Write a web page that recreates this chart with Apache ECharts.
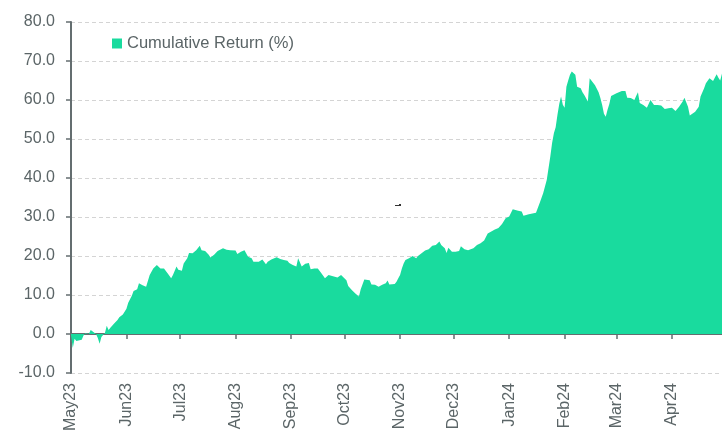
<!DOCTYPE html>
<html>
<head>
<meta charset="utf-8">
<script src="https://cdn.jsdelivr.net/npm/echarts/dist/echarts.min.js"></script>
<style>
	html, body { margin: 0; padding: 0; background: #fff; }
	#chart { width: 722px; height: 434px; }
</style>
</head>
<body>
<div id="chart"></div>
<script>
// 日期
var dates = [
	'2023-05-01', '2023-05-02', '2023-05-03', '2023-05-04', '2023-05-05', '2023-05-07', '2023-05-08', '2023-05-09',
	'2023-05-11', '2023-05-12', '2023-05-13', '2023-05-15', '2023-05-16', '2023-05-17', '2023-05-18', '2023-05-20',
	'2023-05-21', '2023-05-22', '2023-05-23', '2023-05-25', '2023-05-27', '2023-05-28', '2023-05-30',
	'2023-06-01', '2023-06-02', '2023-06-04', '2023-06-05', '2023-06-07', '2023-06-08', '2023-06-10', '2023-06-11',
	'2023-06-12', '2023-06-14', '2023-06-16', '2023-06-18', '2023-06-19', '2023-06-20', '2023-06-22', '2023-06-24',
	'2023-06-26', '2023-06-27', '2023-06-29', '2023-06-30',
	'2023-07-02', '2023-07-03', '2023-07-05', '2023-07-06', '2023-07-08', '2023-07-10', '2023-07-12', '2023-07-13',
	'2023-07-15', '2023-07-17', '2023-07-18', '2023-07-20', '2023-07-22', '2023-07-23', '2023-07-25', '2023-07-27',
	'2023-07-29', '2023-07-30',
	'2023-08-01', '2023-08-02', '2023-08-04', '2023-08-06', '2023-08-07', '2023-08-08', '2023-08-10', '2023-08-11',
	'2023-08-14', '2023-08-16', '2023-08-17', '2023-08-18', '2023-08-19', '2023-08-21', '2023-08-22', '2023-08-24',
	'2023-08-26', '2023-08-28', '2023-08-30', '2023-08-31',
	'2023-09-02', '2023-09-04', '2023-09-05', '2023-09-06', '2023-09-07', '2023-09-09', '2023-09-10', '2023-09-11',
	'2023-09-12', '2023-09-14', '2023-09-16', '2023-09-18', '2023-09-20', '2023-09-21', '2023-09-22', '2023-09-24',
	'2023-09-27', '2023-09-28', '2023-09-29', '2023-09-30',
	'2023-10-02', '2023-10-03', '2023-10-05', '2023-10-07', '2023-10-09', '2023-10-10', '2023-10-12', '2023-10-13',
	'2023-10-15', '2023-10-16', '2023-10-18', '2023-10-20', '2023-10-22', '2023-10-24', '2023-10-25', '2023-10-26',
	'2023-10-27', '2023-10-29', '2023-10-30', '2023-10-31',
	'2023-11-01', '2023-11-02', '2023-11-03', '2023-11-04', '2023-11-06', '2023-11-08', '2023-11-10', '2023-11-11',
	'2023-11-13', '2023-11-15', '2023-11-16', '2023-11-17', '2023-11-19', '2023-11-21', '2023-11-22', '2023-11-23',
	'2023-11-24', '2023-11-26', '2023-11-27', '2023-11-28', '2023-11-30',
	'2023-12-02', '2023-12-04', '2023-12-05', '2023-12-07', '2023-12-09', '2023-12-12', '2023-12-14', '2023-12-16',
	'2023-12-18', '2023-12-20', '2023-12-21', '2023-12-24', '2023-12-26', '2023-12-28', '2023-12-30',
	'2024-01-01', '2024-01-03', '2024-01-04', '2024-01-06', '2024-01-08', '2024-01-09', '2024-01-10', '2024-01-12',
	'2024-01-14', '2024-01-16', '2024-01-17', '2024-01-18', '2024-01-20', '2024-01-22', '2024-01-24', '2024-01-25',
	'2024-01-26', '2024-01-27', '2024-01-28', '2024-01-29', '2024-01-30', '2024-01-31',
	'2024-02-01', '2024-02-02', '2024-02-03', '2024-02-04', '2024-02-05', '2024-02-06', '2024-02-07', '2024-02-08',
	'2024-02-10', '2024-02-11', '2024-02-12', '2024-02-14', '2024-02-15', '2024-02-16', '2024-02-18', '2024-02-20',
	'2024-02-21', '2024-02-22', '2024-02-23', '2024-02-24', '2024-02-25', '2024-02-26', '2024-02-27', '2024-02-28',
	'2024-03-01', '2024-03-04', '2024-03-06', '2024-03-07', '2024-03-09', '2024-03-11', '2024-03-12', '2024-03-13',
	'2024-03-14', '2024-03-16', '2024-03-18', '2024-03-19', '2024-03-20', '2024-03-21', '2024-03-22', '2024-03-24',
	'2024-03-26', '2024-03-28', '2024-03-30',
	'2024-04-01', '2024-04-03', '2024-04-04', '2024-04-05', '2024-04-07', '2024-04-08', '2024-04-10', '2024-04-11',
	'2024-04-12', '2024-04-14', '2024-04-16', '2024-04-17', '2024-04-19', '2024-04-20', '2024-04-22', '2024-04-23',
	'2024-04-24', '2024-04-26', '2024-04-27', '2024-04-28', '2024-04-29'
];

// 累计收益 (%)
var cumReturn = [
	-0.3, -3.6, -1.2, -1.8, -1.7, -1.5, -0.4, 0.2,
	0.0, 1.0, 0.5, 0.0, -1.0, -2.5, -0.8, 0.3,
	2.1, 1.0, 1.6, 2.6, 3.6, 4.3, 5.0,
	6.5, 8.0, 9.8, 11.0, 11.5, 13.0, 12.5, 12.6,
	12.1, 15.1, 16.8, 17.7, 18.1, 16.8, 16.8, 15.6,
	14.3, 15.1, 17.3, 16.5,
	16.2, 18.1, 19.4, 20.8, 20.7, 21.5, 22.6, 21.5,
	21.3, 20.3, 19.6, 20.3, 21.3, 21.5, 22.0, 21.6,
	21.5, 21.5,
	21.4, 20.5, 21.1, 21.5, 21.1, 19.8, 19.4, 18.5,
	18.5, 19.1, 19.4, 17.9, 18.5, 19.1, 18.8, 19.7,
	19.2, 19.0, 18.8, 18.2,
	17.7, 17.3, 19.4, 19.0, 17.3, 18.0, 18.3, 18.2,
	16.6, 16.8, 16.8, 15.6, 14.3, 14.3, 15.1, 14.9,
	14.5, 14.3, 15.1, 14.8,
	13.8, 12.3, 11.3, 10.4, 9.6, 11.5, 14.0, 13.7,
	13.8, 12.7, 12.6, 12.1, 12.6, 13.0, 13.7, 12.7,
	12.8, 12.8, 13.4, 14.3,
	15.1, 16.8, 18.1, 19.0, 19.4, 20.0, 19.4, 20.0,
	20.7, 21.4, 21.1, 21.7, 22.6, 22.8, 23.2, 23.7,
	22.8, 22.0, 20.8, 22.1, 21.1,
	21.1, 21.3, 22.5, 21.7, 21.5, 22.0, 22.8, 23.3,
	24.0, 25.8, 26.3, 26.8, 27.2, 28.2, 29.7,
	30.1, 32.0, 32.0, 31.6, 31.4, 30.3, 30.7, 30.7,
	30.9, 31.1, 30.9, 33.5, 36.1, 39.5, 45.5, 49.0,
	51.5, 53.0, 56.2, 59.0, 60.9, 58.8,
	58.0, 63.4, 65.0, 66.5, 67.3, 67.7, 66.5, 63.4,
	63.0, 62.0, 61.3, 59.6, 65.6, 65.1, 63.8, 62.0,
	60.5, 58.7, 56.5, 55.7, 57.5, 59.0, 61.0, 61.0,
	61.7, 62.3, 62.3, 60.6, 60.5, 60.0, 61.0, 62.0,
	59.2, 58.7, 58.0, 58.0, 60.0, 60.0, 58.7, 58.7,
	58.6, 57.7, 57.9,
	58.0, 57.2, 57.4, 58.3, 59.6, 60.6, 58.3, 56.0,
	56.3, 57.0, 58.3, 60.9, 63.0, 64.3, 65.6, 65.1,
	64.9, 66.6, 65.7, 65.0, 66.8
];

var monthNames = ['Jan', 'Feb', 'Mar', 'Apr', 'May', 'Jun', 'Jul', 'Aug', 'Sep', 'Oct', 'Nov', 'Dec'];
var seriesName = 'Cumulative Return (%)';

var textColor = '#5b6567';
var axisColor = '#646e70';
var areaColor = '#19db9e';
var ONE_DAY = 24 * 3600 * 1000;

var chart = echarts.init(document.getElementById('chart'));

var seriesData = dates.map(function(d, i) {
	return [d, cumReturn[i]];
});

var option = {
	animation: false,
	textStyle: {
		fontFamily: 'Liberation Sans'
	},
	grid: {
		left: 71,
		right: 0,
		top: 22,
		bottom: 61,
		outerBoundsMode: 'none',
		containLabel: false
	},
	legend: {
		data: [seriesName],
		left: 107,
		top: 30,
		icon: 'rect',
		itemWidth: 10,
		itemHeight: 10,
		textStyle: {
			color: textColor,
			fontSize: 16.5,
			fontFamily: 'Liberation Sans'
		}
	},
	xAxis: {
		type: 'time',
		min: '2023-05-01',
		max: '2024-04-29',
		splitNumber: 12,
		minInterval: 28 * ONE_DAY,
		maxInterval: 31 * ONE_DAY,
		axisLine: {
			onZero: true,
			lineStyle: { color: axisColor, width: 2 }
		},
		axisTick: {
			show: true,
			length: 5,
			lineStyle: { color: axisColor, width: 1.5 }
		},
		// 标签放在网格底部
		axisLabel: {
			rotate: 90,
			margin: 10,
			color: textColor,
			fontSize: 16,
			showMinLabel: true,
			hideOverlap: false,
			formatter: function(v) {
				var d = new Date(v);
				return monthNames[d.getMonth()] + String(d.getFullYear()).slice(2);
			}
		},
		splitLine: { show: false }
	},
	yAxis: {
		type: 'value',
		min: -10,
		max: 80,
		interval: 10,
		axisLine: {
			show: true,
			lineStyle: { color: axisColor, width: 2 }
		},
		axisTick: {
			show: true,
			length: 5,
			lineStyle: { color: axisColor, width: 1.5 }
		},
		axisLabel: {
			margin: 16,
			color: textColor,
			fontSize: 16,
			formatter: function(v) {
				return v.toFixed(1);
			}
		},
		splitLine: {
			show: true,
			lineStyle: { color: '#d4d4d4', type: [4, 3], width: 1 }
		}
	},
	// 图上的小黑点
	graphic: [{
		type: 'line',
		shape: { x1: 395, y1: 205.5, x2: 401, y2: 205.5 },
		style: { stroke: '#333', lineWidth: 1 }
	}, {
		type: 'rect',
		shape: { x: 399, y: 204, width: 2, height: 2 },
		style: { fill: '#333' }
	}],
	series: [{
		name: seriesName,
		type: 'line',
		data: seriesData,
		showSymbol: false,
		symbol: 'none',
		color: areaColor,
		lineStyle: { width: 0 },
		areaStyle: { color: areaColor, opacity: 1 },
		z: 1
	}]
};

chart.setOption(option);
</script>
</body>
</html>
